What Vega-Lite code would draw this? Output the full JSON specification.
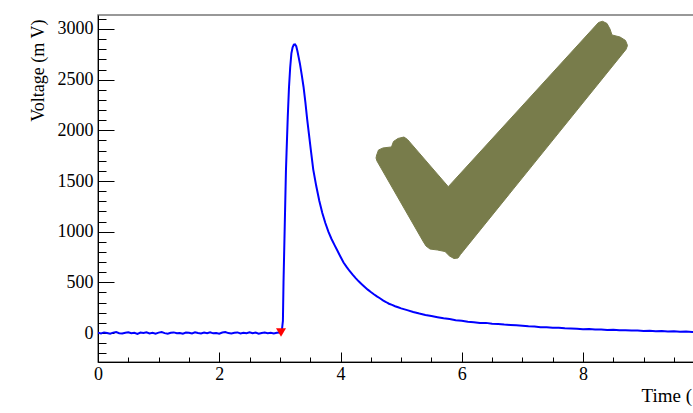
{
  "$schema": "https://vega.github.io/schema/vega-lite/v6.json",
  "width": 597,
  "height": 347,
  "autosize": {"type": "none"},
  "padding": {"left": 98, "top": 15, "right": -2, "bottom": 51},
  "background": "white",
  "config": {"view": {"stroke": "#777777", "strokeWidth": 1.5}, "font": "Liberation Serif"},
  "datasets": {
    "wave": [
      {"t":0.00,"v":3},{"t":0.05,"v":-4},{"t":0.10,"v":6},{"t":0.15,"v":1},{"t":0.20,"v":-7},{"t":0.25,"v":4},{"t":0.30,"v":9},{"t":0.35,"v":-2},{"t":0.40,"v":-5},{"t":0.45,"v":3},
      {"t":0.50,"v":7},{"t":0.55,"v":-3},{"t":0.60,"v":2},{"t":0.65,"v":-8},{"t":0.70,"v":5},{"t":0.75,"v":0},{"t":0.80,"v":8},{"t":0.85,"v":-4},{"t":0.90,"v":2},{"t":0.95,"v":-6},
      {"t":1.00,"v":4},{"t":1.05,"v":10},{"t":1.10,"v":-1},{"t":1.15,"v":-6},{"t":1.20,"v":3},{"t":1.25,"v":6},{"t":1.30,"v":-3},{"t":1.35,"v":1},{"t":1.40,"v":-7},{"t":1.45,"v":5},
      {"t":1.50,"v":2},{"t":1.55,"v":-4},{"t":1.60,"v":7},{"t":1.65,"v":0},{"t":1.70,"v":-5},{"t":1.75,"v":4},{"t":1.80,"v":-2},{"t":1.85,"v":8},{"t":1.90,"v":-3},{"t":1.95,"v":1},
      {"t":2.00,"v":-6},{"t":2.05,"v":5},{"t":2.10,"v":9},{"t":2.15,"v":-1},{"t":2.20,"v":-4},{"t":2.25,"v":3},{"t":2.30,"v":6},{"t":2.35,"v":-5},{"t":2.40,"v":2},{"t":2.45,"v":-2},
      {"t":2.50,"v":7},{"t":2.55,"v":-3},{"t":2.60,"v":4},{"t":2.65,"v":-7},{"t":2.70,"v":1},{"t":2.75,"v":5},{"t":2.80,"v":-2},{"t":2.85,"v":3},{"t":2.90,"v":-5},{"t":2.95,"v":2},
      {"t":3.00,"v":4},{"t":3.03,"v":10},{"t":3.05,"v":120},{"t":3.06,"v":500},{"t":3.08,"v":1050},{"t":3.10,"v":1600},{"t":3.11,"v":1780},{"t":3.13,"v":2130},{"t":3.15,"v":2420},{"t":3.17,"v":2620},
      {"t":3.19,"v":2760},{"t":3.21,"v":2820},{"t":3.23,"v":2845},{"t":3.25,"v":2848},{"t":3.27,"v":2830},{"t":3.29,"v":2780},{"t":3.31,"v":2720},{"t":3.33,"v":2660},{"t":3.36,"v":2550},{"t":3.39,"v":2430},
      {"t":3.42,"v":2280},{"t":3.45,"v":2110},{"t":3.48,"v":1960},{"t":3.51,"v":1810},{"t":3.55,"v":1615},{"t":3.60,"v":1450},{"t":3.65,"v":1305},{"t":3.70,"v":1185},{"t":3.75,"v":1085},{"t":3.80,"v":1000},
      {"t":3.85,"v":930},{"t":3.90,"v":870},{"t":3.95,"v":812},{"t":4.00,"v":752},{"t":4.05,"v":695},{"t":4.10,"v":652},{"t":4.15,"v":612},{"t":4.20,"v":576},{"t":4.25,"v":542},{"t":4.30,"v":510},
      {"t":4.35,"v":482},{"t":4.40,"v":455},{"t":4.45,"v":428},{"t":4.50,"v":404},{"t":4.55,"v":382},{"t":4.60,"v":361},{"t":4.65,"v":343},{"t":4.70,"v":322},{"t":4.75,"v":306},{"t":4.80,"v":289},
      {"t":4.85,"v":277},{"t":4.90,"v":264},{"t":4.95,"v":254},{"t":5.00,"v":243},
      {"t":5.10,"v":226},{"t":5.20,"v":208},{"t":5.30,"v":192},{"t":5.40,"v":178},{"t":5.50,"v":167},{"t":5.60,"v":156},{"t":5.70,"v":145},{"t":5.80,"v":138},{"t":5.90,"v":127},{"t":6.00,"v":121},
      {"t":6.10,"v":111},{"t":6.20,"v":107},{"t":6.30,"v":99},{"t":6.40,"v":100},{"t":6.50,"v":92},{"t":6.60,"v":90},{"t":6.70,"v":84},{"t":6.80,"v":80},{"t":6.90,"v":76},{"t":7.00,"v":72},
      {"t":7.10,"v":66},{"t":7.20,"v":65},{"t":7.30,"v":58},{"t":7.40,"v":56},{"t":7.50,"v":52},{"t":7.60,"v":53},{"t":7.70,"v":46},{"t":7.80,"v":44},{"t":7.90,"v":43},{"t":8.00,"v":38},
      {"t":8.10,"v":39},{"t":8.20,"v":34},{"t":8.30,"v":35},{"t":8.40,"v":30},{"t":8.50,"v":32},{"t":8.60,"v":27},{"t":8.70,"v":28},{"t":8.80,"v":24},{"t":8.90,"v":25},{"t":9.00,"v":20},
      {"t":9.10,"v":22},{"t":9.20,"v":18},{"t":9.30,"v":19},{"t":9.40,"v":15},{"t":9.50,"v":17},{"t":9.60,"v":12},{"t":9.70,"v":14},{"t":9.80,"v":10},{"t":9.90,"v":12},{"t":10.00,"v":9}
    ],
    "check": [
      {"k":1,"t":4.597,"v":1757},{"k":2,"t":4.627,"v":1806},{"k":3,"t":4.701,"v":1826},{"k":4,"t":4.841,"v":1836},{"k":5,"t":4.874,"v":1890},
      {"k":6,"t":4.949,"v":1920},{"k":7,"t":5.047,"v":1934},{"k":8,"t":5.105,"v":1910},{"k":9,"t":5.778,"v":1444},{"k":10,"t":8.256,"v":3064},
      {"k":11,"t":8.322,"v":3076},{"k":12,"t":8.396,"v":3054},{"k":13,"t":8.445,"v":3000},{"k":14,"t":8.478,"v":2941},{"k":15,"t":8.610,"v":2921},
      {"k":16,"t":8.701,"v":2887},{"k":17,"t":8.734,"v":2837},{"k":18,"t":8.709,"v":2798},{"k":19,"t":5.979,"v":775},{"k":20,"t":5.938,"v":740},
      {"k":21,"t":5.872,"v":735},{"k":22,"t":5.798,"v":760},{"k":23,"t":5.724,"v":804},{"k":24,"t":5.600,"v":819},{"k":25,"t":5.476,"v":829},
      {"k":26,"t":5.410,"v":859},{"k":27,"t":5.369,"v":898},{"k":28,"t":4.602,"v":1697},{"k":29,"t":4.586,"v":1727},{"k":30,"t":4.597,"v":1757}
    ],
    "marker": [{"t":3.019,"v":5}]
  },
  "layer": [
    {
      "data": {"name": "wave"},
      "mark": {"type": "line", "color": "#0000ff", "strokeWidth": 2, "clip": true},
      "encoding": {
        "x": {
          "field": "t", "type": "quantitative",
          "scale": {"domain": [0, 9.8474], "nice": false, "zero": false},
          "axis": {
            "orient": "bottom",
            "title": "Time (μs)",
            "values": [0, 2, 4, 6, 8],
            "format": "d",
            "tickSize": -10,
            "tickColor": "black", "tickWidth": 1,
            "domainColor": "black", "domainWidth": 1,
            "grid": false,
            "labelFontSize": 18, "labelColor": "black", "labelPadding": 13,
            "labelFlush": false, "labelOverlap": false, "labelFont": "Liberation Serif",
            "titleFont": "Liberation Serif", "titleFontSize": 19, "titleFontWeight": "normal", "titleColor": "black",
            "titleX": 543, "titleY": 39, "titleAlign": "left", "titleBaseline": "alphabetic", "titleAnchor": null
          }
        },
        "y": {
          "field": "v", "type": "quantitative",
          "scale": {"domain": [-286, 3138], "nice": false, "zero": false},
          "axis": {
            "orient": "left",
            "title": "Voltage (m V)",
            "values": [0, 500, 1000, 1500, 2000, 2500, 3000],
            "format": "d",
            "tickSize": -16,
            "tickColor": "black", "tickWidth": 1,
            "domainColor": "black", "domainWidth": 1,
            "grid": false,
            "labelFontSize": 18, "labelColor": "black", "labelPadding": 21,
            "labelFlush": false, "labelOverlap": false, "labelFont": "Liberation Serif",
            "titleFont": "Liberation Serif", "titleFontSize": 18, "titleFontWeight": "normal", "titleColor": "black",
            "titleAngle": -90, "titleX": -60, "titleY": 4, "titleAlign": "right", "titleBaseline": "middle", "titleAnchor": null
          }
        }
      }
    },
    {
      "data": {"name": "check"},
      "mark": {"type": "line", "fill": "#787c4b", "stroke": "#787c4b", "strokeWidth": 1, "strokeJoin": "round"},
      "encoding": {
        "x": {
          "field": "t", "type": "quantitative",
          "axis": {"orient": "top", "offset": -347, "values": [0.5,1,1.5,2.5,3,3.5,4.5,5,5.5,6.5,7,7.5,8.5,9,9.5], "tickSize": 5, "tickColor": "black", "tickWidth": 1, "labels": false, "domain": false, "title": null, "grid": false}
        },
        "y": {
          "field": "v", "type": "quantitative",
          "axis": {"orient": "right", "offset": -597, "values": [-200,-100,100,200,300,400,600,700,800,900,1100,1200,1300,1400,1600,1700,1800,1900,2100,2200,2300,2400,2600,2700,2800,2900,3100], "tickSize": 8, "tickColor": "black", "tickWidth": 1, "labels": false, "domain": false, "title": null, "grid": false}
        },
        "order": {"field": "k", "type": "quantitative"}
      }
    },
    {
      "data": {"name": "marker"},
      "mark": {"type": "point", "shape": "triangle-down", "filled": true, "color": "#ff0000", "size": 100, "opacity": 1},
      "encoding": {
        "x": {"field": "t", "type": "quantitative", "axis": null},
        "y": {"field": "v", "type": "quantitative", "axis": null}
      }
    }
  ]
}
